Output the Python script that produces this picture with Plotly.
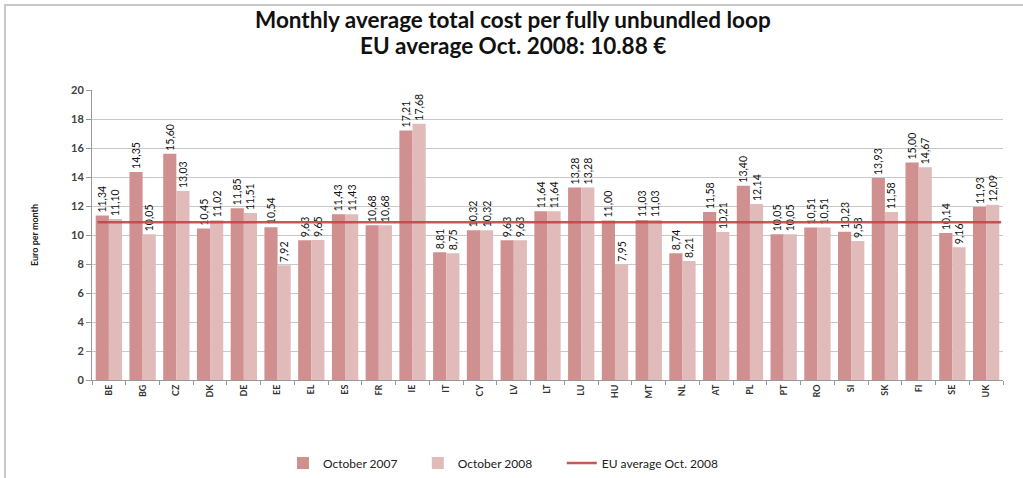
import plotly.graph_objects as go

countries = ["BE", "BG", "CZ", "DK", "DE", "EE", "EL", "ES", "FR", "IE", "IT", "CY", "LV",
             "LT", "LU", "HU", "MT", "NL", "AT", "PL", "PT", "RO", "SI", "SK", "FI", "SE", "UK"]
oct_2007 = [11.34, 14.35, 15.60, 10.45, 11.85, 10.54, 9.63, 11.43, 10.68, 17.21, 8.81, 10.32, 9.63,
            11.64, 13.28, 11.00, 11.03, 8.74, 11.58, 13.40, 10.05, 10.51, 10.23, 13.93, 15.00, 10.14, 11.93]
oct_2008 = [11.10, 10.05, 13.03, 11.02, 11.51, 7.92, 9.65, 11.43, 10.68, 17.68, 8.75, 10.32, 9.63,
            11.64, 13.28, 7.95, 11.03, 8.21, 10.21, 12.14, 10.05, 10.51, 9.58, 11.58, 14.67, 9.16, 12.09]
eu_average = 10.88
y_ticks = [0, 2, 4, 6, 8, 10, 12, 14, 16, 18, 20]
title_lines = ["Monthly average total cost per fully unbundled loop", "EU average Oct. 2008: 10.88 €"]
series_names = ["October 2007", "October 2008", "EU average Oct. 2008"]

FONT = "Lato, 'Open Sans', sans-serif"
L, R, T, B = 92, 20, 90, 98
PW, PH = 1023 - L - R, 478 - T - B
PAD = "\u00a0"

fig = go.Figure()
for name, vals, col, pad in [(series_names[0], oct_2007, "rgb(209,144,144)", 5),
                             (series_names[1], oct_2008, "rgb(225,186,186)", 8)]:
    fig.add_trace(go.Bar(
        x=countries, y=vals, name=name + PAD * pad,
        marker=dict(color=col, line=dict(width=0)),
        texttemplate="%{y:.2f}", textposition="outside", textangle=-90,
        constraintext="none",
        textfont=dict(size=10.5, color="#111", family=FONT), cliponaxis=False,
    ))
fig.add_trace(go.Scatter(
    x=[0.006, 0.998], y=[eu_average, eu_average], xaxis="x2", mode="lines",
    name=series_names[2], line=dict(color="rgba(192,70,70,0.9)", width=2.5),
    hoverinfo="skip",
))

annotations = [
    dict(text=title_lines[0], xref="paper", yref="paper", x=(513 - L) / PW,
         y=(478 - B - 19) / PH, xanchor="center", yanchor="middle", showarrow=False,
         font=dict(size=22.5, family=FONT, color="#111", weight="bold")),
    dict(text=title_lines[1], xref="paper", yref="paper", x=(513 - L) / PW,
         y=(478 - B - 45) / PH, xanchor="center", yanchor="middle", showarrow=False,
         font=dict(size=22.5, family=FONT, color="#111", weight="bold")),
]

fig.update_layout(
    width=1023, height=478,
    margin=dict(l=L, r=R, t=T, b=B, autoexpand=False),
    paper_bgcolor="white", plot_bgcolor="white",
    separators=",.",
    font=dict(family=FONT, color="#222"),
    annotations=annotations,
    barmode="group", bargap=0.22, bargroupgap=0,
    showlegend=True,
    legend=dict(orientation="h", x=283 / 1023, xanchor="left", xref="container",
                y=(478 - 463) / 478, yanchor="middle", yref="container",
                bgcolor="rgba(0,0,0,0)",
                font=dict(size=12, family=FONT, color="#222"), traceorder="normal"),
    xaxis=dict(
        type="category", tickangle=-90, tickson="boundaries", ticks="outside", ticklen=4,
        tickcolor="#999", showline=True, linecolor="#999", linewidth=1,
        tickfont=dict(size=9, family=FONT, color="#333", weight="bold"),
        showgrid=False, automargin=False,
    ),
    xaxis2=dict(overlaying="x", range=[0, 1], visible=False),
    yaxis=dict(
        range=[0, 20], tickvals=y_ticks, ticks="outside", ticklen=5, tickcolor="#999",
        showline=True, linecolor="#999", linewidth=1,
        showgrid=True, gridcolor="#c8c8c8", gridwidth=1.3,
        tickfont=dict(size=11, family=FONT, color="#404040", weight="bold"),
        title=dict(text="<b>Euro per month</b>", font=dict(size=9, family=FONT, color="#222"),
                   standoff=30),
        zeroline=False, automargin=False,
    ),
    shapes=[dict(type="rect", xref="paper", yref="paper",
                 x0=(5 - L) / PW, x1=(1030 - L) / PW,
                 y0=(478 - B - 490) / PH, y1=(478 - B - 5) / PH,
                 line=dict(color="#c8c8c8", width=2), fillcolor="rgba(0,0,0,0)", layer="below")],
)

fig.write_html("out.html", config={"displayModeBar": False},
               post_script="document.body.style.margin='0';")
